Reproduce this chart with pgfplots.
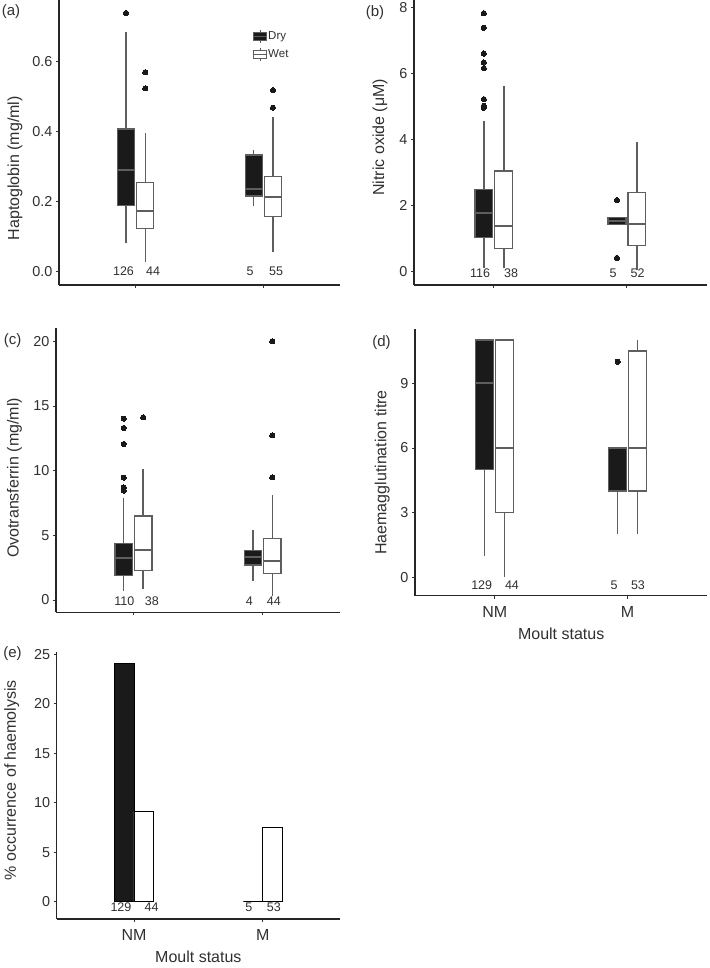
\documentclass[border=0pt]{standalone}
\usepackage{fontspec}
\setmainfont{Liberation Sans}
\usepackage{pgfplots}
\pgfplotsset{compat=1.18}
\usepgfplotslibrary{statistics}
\definecolor{dryfill}{HTML}{1A1A1A}
\definecolor{boxline}{HTML}{5E5E5E}
\definecolor{txt}{HTML}{303030}
\pgfplotsset{
  panel/.style={
    scale only axis, anchor=south west,
    axis x line*=bottom, axis y line*=left,
    xmin=0.4, xmax=2.6, xtick={1,2},
    tick align=outside, major tick length=3pt,
    tick style={black!80, line width=0.8pt},
    axis line style={black!85, line width=1.1pt},
    tick label style={font=\fontsize{14.4}{16}\selectfont, text=txt},
    ylabel style={font=\fontsize{16}{18}\selectfont, text=txt, anchor=center},
    xlabel style={font=\fontsize{16}{18}\selectfont, text=txt, anchor=center},
    /pgf/number format/assume math mode=true,
    clip=false,
  },
  dry/.style={draw=boxline, fill=dryfill, line width=1.3pt, mark=*, mark size=2.6pt,
    mark options={draw=black!90, fill=black!90, line width=0pt}, forget plot},
  wet/.style={draw=boxline, fill=white, line width=1.3pt, mark=*, mark size=2.6pt,
    mark options={draw=black!90, fill=black!90, line width=0pt}, forget plot},
  bx/.style={/pgfplots/boxplot/draw direction=y, /pgfplots/boxplot/box extend=0.135,
    /pgfplots/boxplot/whisker extend=0,
    /pgfplots/boxplot/every median/.style={line width=2pt},
    /pgfplots/boxplot/every whisker/.style={line width=1.4pt}},
}
\newcommand{\cnt}[3]{\node[font=\fontsize{12.5}{14}\selectfont, text=txt, anchor=center] at (axis cs:#1,#2) {#3};}
\begin{document}
\begin{tikzpicture}
\path[use as bounding box] (0pt,0pt) rectangle (709pt,-968pt);

% ---------- (a)
\begin{axis}[panel, at={(59pt,-285pt)}, width=281pt, height=285pt,
  ymin=-0.038, ymax=0.775, ytick={0,0.2,0.4,0.6},
  yticklabel style={/pgf/number format/.cd, fixed, fixed zerofill, precision=1},
  xticklabels={\empty,\empty},
  ylabel={Haptoglobin (mg/ml)}, ylabel style={at={(axis description cs:-0.157,0.41)}},
  legend style={draw=none, fill=none, at={(axis cs:1.92,0.692)}, anchor=north west,
    font=\fontsize{11.5}{12}\selectfont, inner sep=0pt, row sep=4.5pt,
    nodes={inner sep=1pt, text=txt}},
  legend cell align=left]
\addplot[boxplot prepared={draw position=0.925, lower whisker=0.081, lower quartile=0.189, median=0.291, upper quartile=0.407, upper whisker=0.684}, bx, dry] coordinates {(0,0.738)};
\addplot[boxplot prepared={draw position=1.075, lower whisker=0.027, lower quartile=0.123, median=0.173, upper quartile=0.254, upper whisker=0.396}, bx, wet] coordinates {(0,0.523) (0,0.569)};
\addplot[boxplot prepared={draw position=1.925, lower whisker=0.188, lower quartile=0.216, median=0.235, upper quartile=0.333, upper whisker=0.348}, bx, dry] coordinates {};
\addplot[boxplot prepared={draw position=2.075, lower whisker=0.057, lower quartile=0.157, median=0.212, upper quartile=0.271, upper whisker=0.441}, bx, wet] coordinates {(0,0.468) (0,0.518)};
\addlegendimage{legend image code/.code={
   \draw[draw=boxline, fill=dryfill, line width=0.9pt] (0pt,-4pt) rectangle (13pt,4pt);
   \draw[boxline, line width=0.9pt] (0pt,0pt) -- (13pt,0pt) (6.5pt,4pt) -- (6.5pt,6.5pt) (6.5pt,-4pt) -- (6.5pt,-6.5pt);}}
\addlegendentry{Dry}
\addlegendimage{legend image code/.code={
   \draw[draw=boxline, fill=white, line width=0.9pt] (0pt,-4pt) rectangle (13pt,4pt);
   \draw[boxline, line width=0.9pt] (0pt,0pt) -- (13pt,0pt) (6.5pt,4pt) -- (6.5pt,6.5pt) (6.5pt,-4pt) -- (6.5pt,-6.5pt);}}
\addlegendentry{Wet}
\cnt{0.905}{0}{126}\cnt{1.136}{0}{44}\cnt{1.896}{0}{5}\cnt{2.10}{0}{55}
\end{axis}

% ---------- (b)
\begin{axis}[panel, at={(414pt,-285pt)}, width=292.7pt, height=285pt,
  ymin=-0.40, ymax=8.22, ytick={0,2,4,6,8},
  xticklabels={\empty,\empty},
  ylabel={Nitric oxide (μM)}, ylabel style={at={(axis description cs:-0.116,0.518)}}]
\addplot[boxplot prepared={draw position=0.925, lower whisker=0.10, lower quartile=1.03, median=1.77, upper quartile=2.48, upper whisker=4.57}, bx, dry] coordinates {(0,4.96) (0,5.02) (0,5.22) (0,6.16) (0,6.33) (0,6.60) (0,7.38) (0,7.82)};
\addplot[boxplot prepared={draw position=1.075, lower whisker=0.10, lower quartile=0.71, median=1.39, upper quartile=3.05, upper whisker=5.63}, bx, wet] coordinates {};
\addplot[boxplot prepared={draw position=1.925, lower whisker=1.43, lower quartile=1.43, median=1.54, upper quartile=1.65, upper whisker=1.65}, bx, dry] coordinates {(0,0.42) (0,2.17)};
\addplot[boxplot prepared={draw position=2.075, lower whisker=0.05, lower quartile=0.80, median=1.45, upper quartile=2.40, upper whisker=3.91}, bx, wet] coordinates {};
\cnt{0.896}{-0.03}{116}\cnt{1.13}{-0.03}{38}\cnt{1.896}{-0.03}{5}\cnt{2.08}{-0.03}{52}
\end{axis}

% ---------- (c)
\begin{axis}[panel, at={(56pt,-612.3pt)}, width=284pt, height=284pt,
  ymin=-0.95, ymax=21.0, ytick={0,5,10,15,20},
  xticklabels={\empty,\empty},
  ylabel={Ovotransferrin (mg/ml)}, ylabel style={at={(axis description cs:-0.146,0.473)}}]
\addplot[boxplot prepared={draw position=0.925, lower whisker=0.70, lower quartile=1.88, median=3.22, upper quartile=4.38, upper whisker=7.89}, bx, dry] coordinates {(0,8.45) (0,8.69) (0,9.46) (0,12.06) (0,13.30) (0,14.02)};
\addplot[boxplot prepared={draw position=1.075, lower whisker=0.88, lower quartile=2.29, median=3.87, upper quartile=6.49, upper whisker=10.15}, bx, wet] coordinates {(0,14.12)};
\addplot[boxplot prepared={draw position=1.925, lower whisker=1.47, lower quartile=2.71, median=3.32, upper quartile=3.81, upper whisker=5.41}, bx, dry] coordinates {};
\addplot[boxplot prepared={draw position=2.075, lower whisker=0.30, lower quartile=2.06, median=2.99, upper quartile=4.74, upper whisker=8.12}, bx, wet] coordinates {(0,9.48) (0,12.73) (0,20.0)};
\cnt{0.929}{-0.08}{110}\cnt{1.143}{-0.08}{38}\cnt{1.897}{-0.08}{4}\cnt{2.088}{-0.08}{44}
\end{axis}

% ---------- (d)
\begin{axis}[panel, at={(415pt,-595.7pt)}, width=292.3pt, height=266.4pt,
  ymin=-0.85, ymax=11.5, ytick={0,3,6,9},
  xticklabels={NM,M}, xticklabel style={font=\fontsize{16}{18}\selectfont, yshift=-4pt},
  xlabel={Moult status}, xlabel style={at={(axis description cs:0.5,-0.144)}},
  ylabel={Haemagglutination titre}, ylabel style={at={(axis description cs:-0.112,0.4625)}}]
\addplot[boxplot prepared={draw position=0.925, lower whisker=1, lower quartile=5, median=9, upper quartile=11, upper whisker=11}, bx, dry] coordinates {};
\addplot[boxplot prepared={draw position=1.075, lower whisker=0, lower quartile=3, median=6, upper quartile=11, upper whisker=11}, bx, wet] coordinates {};
\addplot[boxplot prepared={draw position=1.925, lower whisker=2, lower quartile=4, median=6, upper quartile=6, upper whisker=6}, bx, dry] coordinates {(0,10)};
\addplot[boxplot prepared={draw position=2.075, lower whisker=2, lower quartile=4, median=6, upper quartile=10.5, upper whisker=11}, bx, wet] coordinates {};
\cnt{0.902}{-0.36}{129}\cnt{1.13}{-0.36}{44}\cnt{1.898}{-0.36}{5}\cnt{2.078}{-0.36}{53}
\end{axis}

% ---------- (e)
\begin{axis}[panel, at={(56.7pt,-919pt)}, width=283.3pt, height=266.7pt,
  ymin=-1.75, ymax=25.2, ytick={0,5,10,15,20,25},
  xticklabels={NM,M}, xticklabel style={font=\fontsize{16}{18}\selectfont, yshift=-4pt},
  xlabel={Moult status}, xlabel style={at={(axis description cs:0.5,-0.141)}},
  ylabel={\% occurrence of haemolysis}, ylabel style={at={(axis description cs:-0.159,0.521)}}]
\addplot[ybar, bar width=0.15, bar shift=0pt, fill=dryfill, draw=black, line width=0.9pt] coordinates {(0.925,24.03) (1.925,0)};
\addplot[ybar, bar width=0.15, bar shift=0pt, fill=white, draw=black, line width=0.9pt] coordinates {(1.075,9.09) (2.075,7.55)};
\cnt{0.899}{-0.57}{129}\cnt{1.137}{-0.57}{44}\cnt{1.893}{-0.57}{5}\cnt{2.087}{-0.57}{53}
\end{axis}

% panel letters
\node[font=\fontsize{15}{17}\selectfont, text=txt] at (11pt,-12pt) {(a)};
\node[font=\fontsize{15}{17}\selectfont, text=txt] at (375pt,-13pt) {(b)};
\node[font=\fontsize{15}{17}\selectfont, text=txt] at (12.5pt,-340.7pt) {(c)};
\node[font=\fontsize{15}{17}\selectfont, text=txt] at (381.5pt,-342.3pt) {(d)};
\node[font=\fontsize{15}{17}\selectfont, text=txt] at (12.5pt,-654pt) {(e)};
\end{tikzpicture}
\end{document}
